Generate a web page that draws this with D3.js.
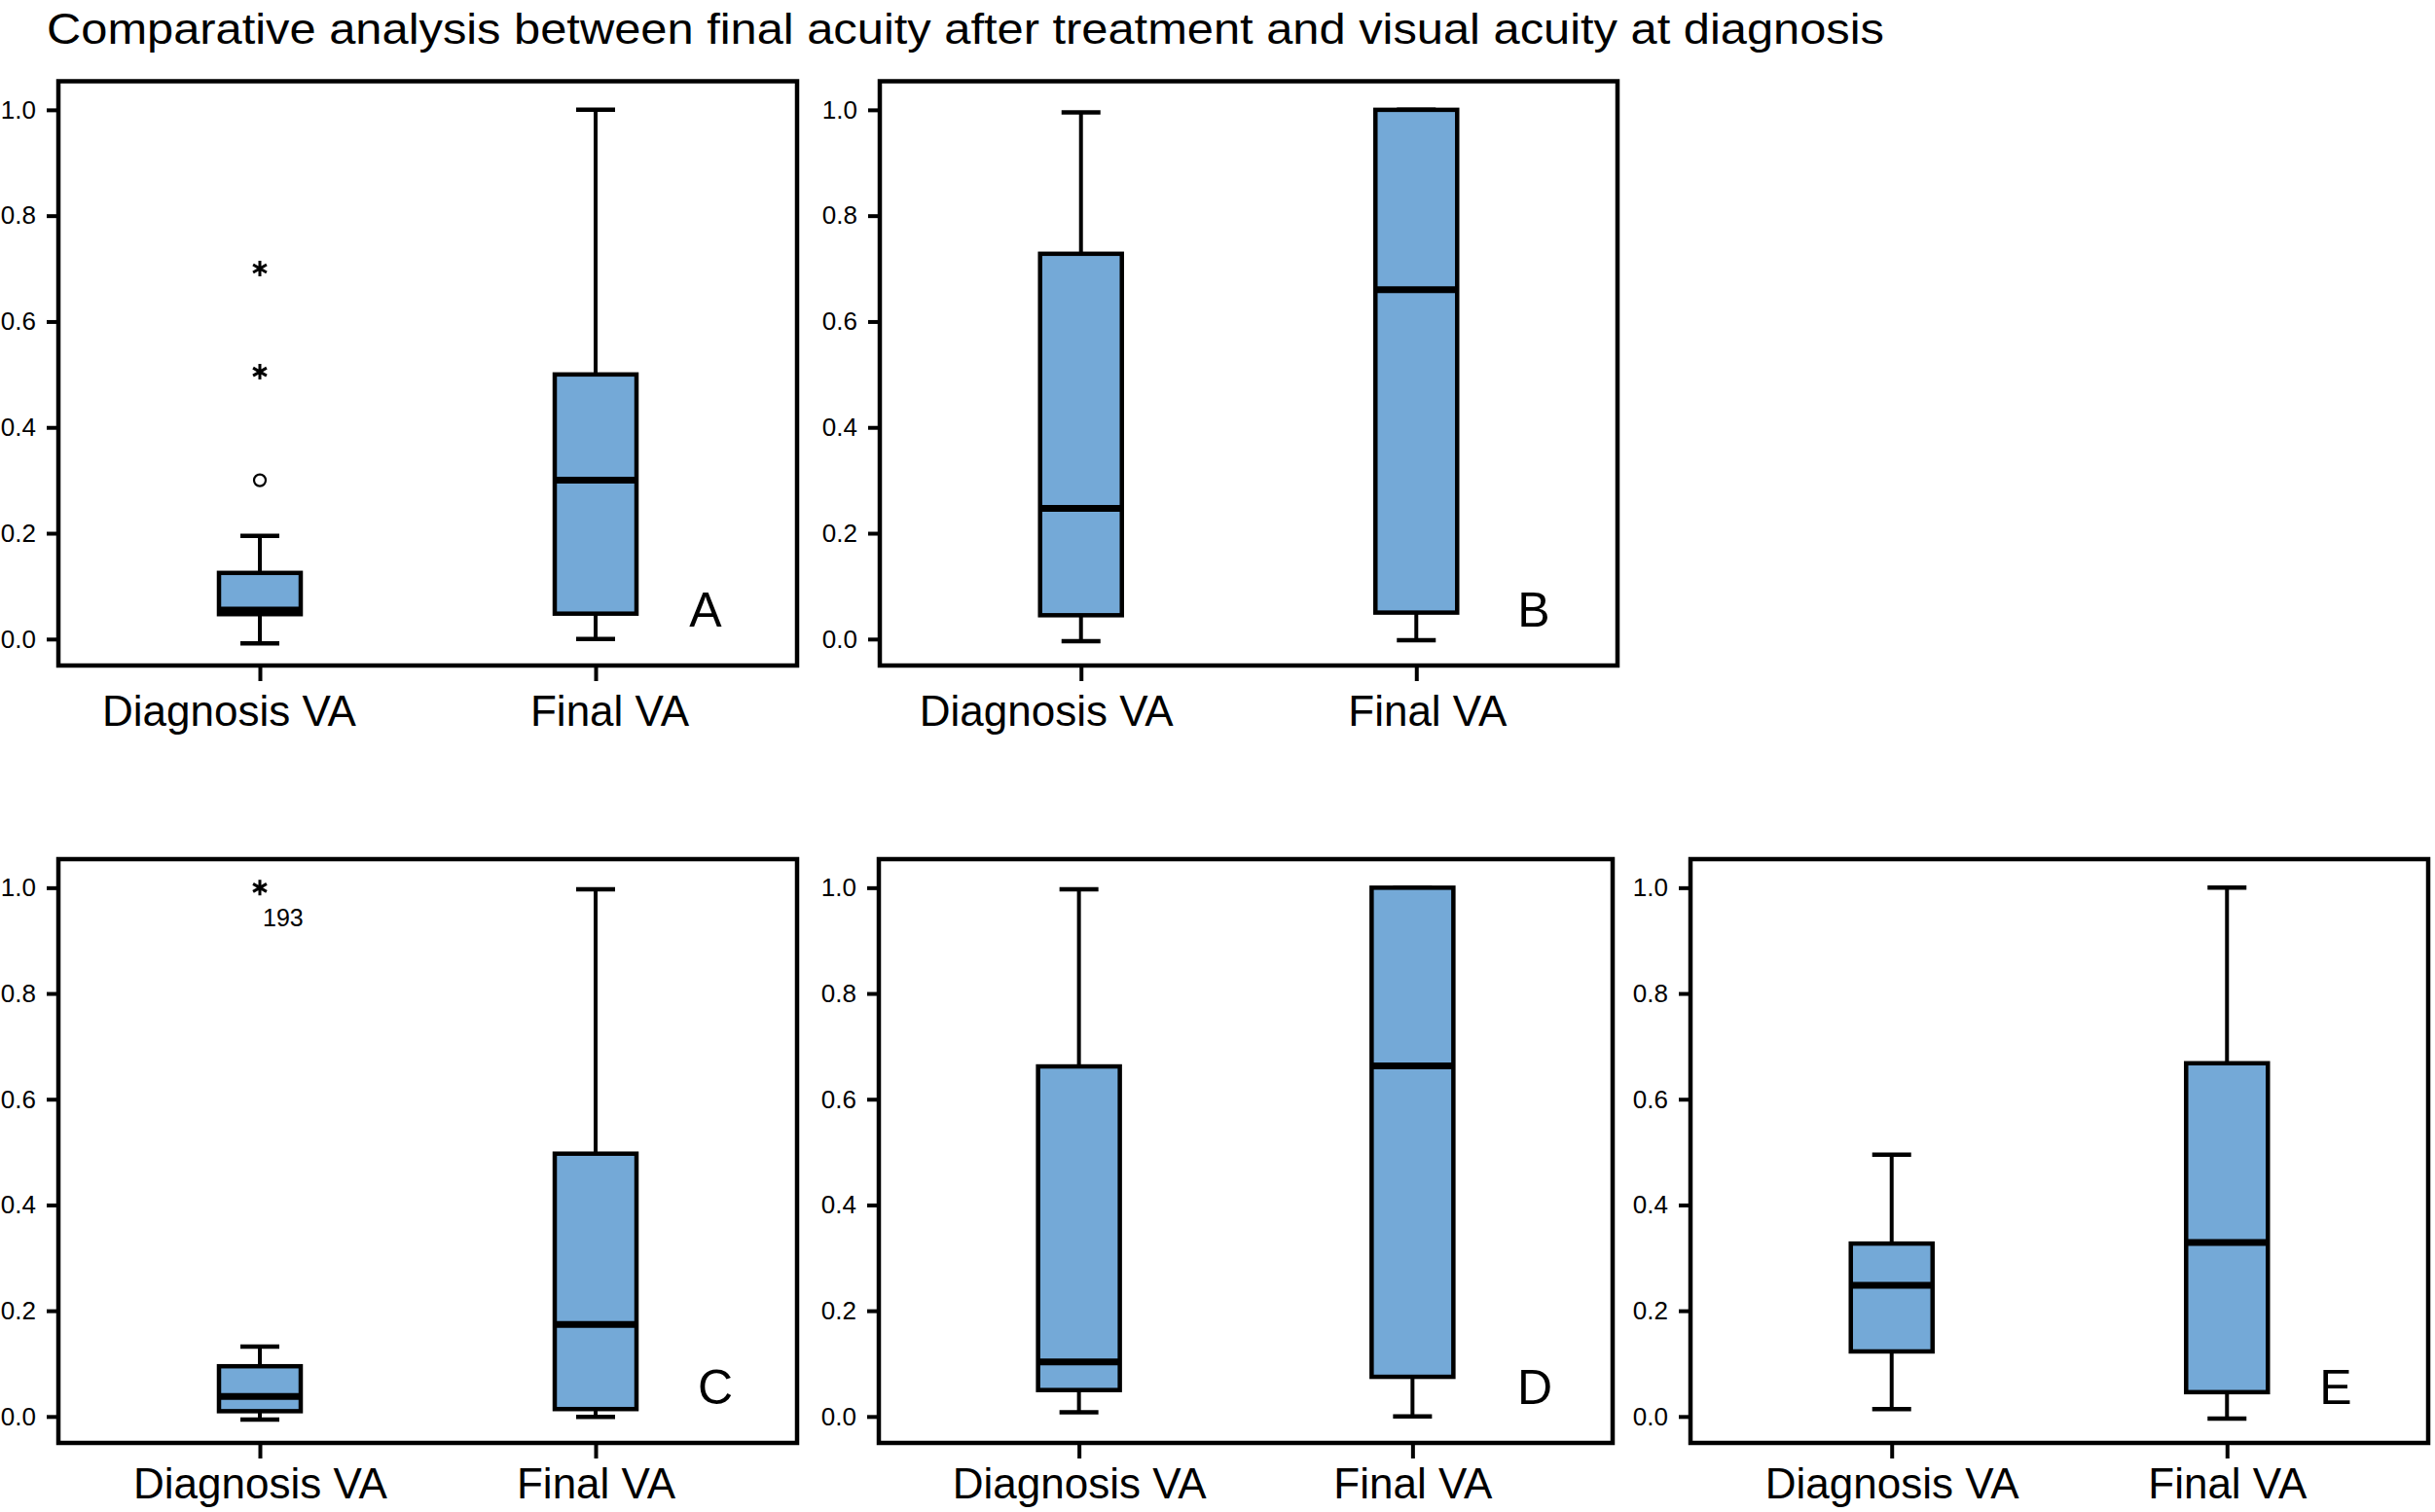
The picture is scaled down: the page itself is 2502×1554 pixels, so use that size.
<!DOCTYPE html>
<html>
<head>
<meta charset="utf-8">
<script src="https://cdn.jsdelivr.net/npm/d3@7"></script>
<style>
  body { margin: 0; background: #fff; }
  svg { display: block; font-family: 'Liberation Sans', Arial, Helvetica, sans-serif; }
</style>
</head>
<body>
<svg id="chart" width="2502" height="1554"></svg>
<script>
'use strict';

// ---- data ----
const title = 'Comparative analysis between final acuity after treatment and visual acuity at diagnosis';
const panels = ['A', 'B', 'C', 'D', 'E'];
const groups = ['Diagnosis VA', 'Final VA'];
const yTicks = [0, 0.2, 0.4, 0.6, 0.8, 1.0];

// one [Diagnosis, Final] pair per panel
const whiskerLow = [[-0.008, 0.0], [-0.004, -0.002], [-0.006, -0.001], [0.008, 0.0], [0.014, -0.004]];
const q1 = [[0.047, 0.048], [0.045, 0.05], [0.01, 0.014], [0.05, 0.075], [0.123, 0.046]];
const median = [[0.055, 0.30], [0.247, 0.66], [0.038, 0.174], [0.103, 0.663], [0.248, 0.329]];
const q3 = [[0.125, 0.50], [0.728, 1.0], [0.095, 0.497], [0.662, 1.0], [0.327, 0.668]];
const whiskerHigh = [[0.195, 1.0], [0.995, 1.0], [0.132, 0.997], [0.997, 1.0], [0.495, 1.0]];

// outliers (all on Diagnosis VA)
const outlierPanel = ['A', 'A', 'A', 'C'];
const outlierValue = [0.70, 0.505, 0.30, 1.0];
const outlierKind = ['extreme', 'extreme', 'mild', 'extreme'];
const outlierLabel = ['', '', '', '193'];

// ---- layout ----
const frames = {
  A: { x0: 60, x1: 819, y0: 83.5, y1: 684, labelDx: [-32, 14], labelPad: 15, letterDx: -94 },
  B: { x0: 904, x1: 1662, y0: 83.5, y1: 684, labelDx: [-36, 11], labelPad: 15, letterDx: -86 },
  C: { x0: 60, x1: 819, y0: 883, y1: 1483, labelDx: [0, 0], labelPad: 10, letterDx: -84 },
  D: { x0: 903, x1: 1657, y0: 883, y1: 1483, labelDx: [0, 0], labelPad: 10, letterDx: -80 },
  E: { x0: 1737, x1: 2495, y0: 883, y1: 1483, labelDx: [0, 0], labelPad: 10, letterDx: -95 }
};
const boxFill = '#74a9d7',
  boxWidth = 84,
  capWidth = 40;

const svg = d3.select('#chart');
svg.append('rect').attr('width', 2502).attr('height', 1554).attr('fill', '#fff');

// title, fitted to the width it takes in the figure
const titleText = svg.append('text')
  .attr('x', 48).attr('y', 45)
  .attr('font-size', 42)
  .attr('fill', '#000')
  .text(title);
const titleLen = titleText.node().getComputedTextLength();
titleText.attr('font-size', Math.min(44, 42 * 1888 / titleLen));
titleText.attr('textLength', 1888).attr('lengthAdjust', 'spacingAndGlyphs');

function asteriskPath(cx, cy, r) {
  const p = d3.path();
  [90, 30, -30].forEach(deg => {
    const a = deg * Math.PI / 180,
      dx = r * Math.cos(a),
      dy = r * Math.sin(a);
    p.moveTo(cx - dx, cy - dy);
    p.lineTo(cx + dx, cy + dy);
  });
  return p.toString();
}

panels.forEach((name, pi) => {
  const f = frames[name];
  const g = svg.append('g').attr('class', 'panel');

  const y = d3.scaleLinear().domain([-0.05, 1.054]).range([f.y1, f.y0]);
  const x = d3.scalePoint().domain(groups).range([f.x0, f.x1]).padding(0.6);

  const stats = groups.map((grp, gi) => ({
    grp,
    lo: whiskerLow[pi][gi],
    q1: q1[pi][gi],
    med: median[pi][gi],
    q3: q3[pi][gi],
    hi: whiskerHigh[pi][gi]
  }));

  const boxes = g.selectAll('.box').data(stats).enter().append('g').attr('class', 'box');

  // whiskers
  boxes.append('line')
    .attr('x1', d => x(d.grp)).attr('x2', d => x(d.grp))
    .attr('y1', d => y(d.lo)).attr('y2', d => y(d.q1))
    .attr('stroke', '#000').attr('stroke-width', 4);
  boxes.append('line')
    .attr('x1', d => x(d.grp)).attr('x2', d => x(d.grp))
    .attr('y1', d => y(d.q3)).attr('y2', d => y(d.hi))
    .attr('stroke', '#000').attr('stroke-width', 4);
  ['lo', 'hi'].forEach(k => {
    boxes.append('line')
      .attr('x1', d => x(d.grp) - capWidth / 2).attr('x2', d => x(d.grp) + capWidth / 2)
      .attr('y1', d => y(d[k])).attr('y2', d => y(d[k]))
      .attr('stroke', '#000').attr('stroke-width', 4.5);
  });

  // box + median
  boxes.append('rect')
    .attr('x', d => x(d.grp) - boxWidth / 2)
    .attr('y', d => y(d.q3))
    .attr('width', boxWidth)
    .attr('height', d => y(d.q1) - y(d.q3))
    .attr('fill', boxFill)
    .attr('stroke', '#000').attr('stroke-width', 4.5);
  boxes.append('line')
    .attr('x1', d => x(d.grp) - boxWidth / 2).attr('x2', d => x(d.grp) + boxWidth / 2)
    .attr('y1', d => y(d.med)).attr('y2', d => y(d.med))
    .attr('stroke', '#000').attr('stroke-width', 7);

  // outliers
  outlierPanel.forEach((p, oi) => {
    if (p !== name) return;
    const cx = x(groups[0]),
      cy = y(outlierValue[oi]);
    if (outlierKind[oi] === 'extreme') {
      g.append('path')
        .attr('d', asteriskPath(cx, cy, 8))
        .attr('stroke', '#000').attr('stroke-width', 3).attr('fill', 'none');
    } else {
      g.append('circle')
        .attr('cx', cx).attr('cy', cy).attr('r', 6)
        .attr('fill', 'none').attr('stroke', '#000').attr('stroke-width', 2.2);
    }
    if (outlierLabel[oi]) {
      g.append('text')
        .attr('x', cx + 3).attr('y', cy + 40)
        .attr('font-size', 25)
        .text(outlierLabel[oi]);
    }
  });

  // frame
  g.append('rect')
    .attr('x', f.x0).attr('y', f.y0)
    .attr('width', f.x1 - f.x0).attr('height', f.y1 - f.y0)
    .attr('fill', 'none').attr('stroke', '#000').attr('stroke-width', 4.5);

  // axes
  const yAxis = g.append('g')
    .attr('transform', `translate(${f.x0 - 2},0)`)
    .call(d3.axisLeft(y).tickValues(yTicks).tickFormat(d3.format('.1f')).tickSize(10).tickPadding(11));
  const xAxis = g.append('g')
    .attr('transform', `translate(0,${f.y1})`)
    .call(d3.axisBottom(x).tickSize(16).tickPadding(f.labelPad));
  [yAxis, xAxis].forEach(ax => {
    ax.select('.domain').remove();
    ax.selectAll('.tick line').attr('stroke', '#000').attr('stroke-width', 4);
    ax.selectAll('text').attr('fill', '#000').attr('font-family', null);
  });
  yAxis.attr('font-size', 26);
  xAxis.attr('font-size', 44);
  xAxis.selectAll('.tick text').attr('dx', (d, i) => f.labelDx[i]);

  // panel letter
  g.append('text')
    .attr('x', f.x1 + f.letterDx).attr('y', f.y1 - 40)
    .attr('text-anchor', 'middle')
    .attr('font-size', 50)
    .text(name);
});
</script>
</body>
</html>
